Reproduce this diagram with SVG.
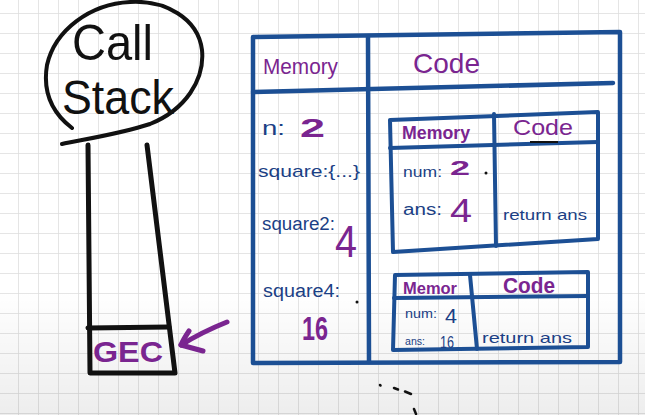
<svg xmlns="http://www.w3.org/2000/svg" width="645" height="415" viewBox="0 0 645 415">
<style>
text{font-family:"Liberation Sans",Arial,sans-serif}
.pu{fill:#7a2590}
.bt{fill:#1b3f85}
.bk{fill:#111}
.bl{fill:none;stroke:#1c4f94;stroke-width:4.5;stroke-linecap:round;stroke-linejoin:round}
.blk{fill:none;stroke:#111;stroke-width:5;stroke-linecap:round;stroke-linejoin:round}
.ar{fill:none;stroke:#7a2590;stroke-width:5;stroke-linecap:round;stroke-linejoin:round}
.b{font-weight:bold}
</style>
<defs>
<pattern id="grid" x="18" y="13" width="20" height="20" patternUnits="userSpaceOnUse">
<path d="M0,0 V20 M0,0 H20" fill="none" stroke="#dddddd" stroke-width="1.5"/>
</pattern>
<linearGradient id="shade" x1="0" y1="0" x2="0" y2="1">
<stop offset="0" stop-color="#000" stop-opacity="0"/>
<stop offset="1" stop-color="#000" stop-opacity="0.07"/>
</linearGradient>
</defs>
<rect width="645" height="415" fill="#ffffff"/>
<rect width="645" height="415" fill="url(#grid)"/>
<rect x="0" y="290" width="645" height="125" fill="url(#shade)"/>

<g id="call-stack-label">
<path class="blk" style="stroke-width:4" d="M62,144 C80,140 120,134 150,124 C185,110 205,80 202,50 C198,18 165,0 130,2 C90,4 55,30 47,65 C42,95 55,115 72,128"/>
<text class="bk" x="72" y="60" font-size="50" textLength="81" lengthAdjust="spacingAndGlyphs">Call</text>
<text class="bk" x="62" y="114" font-size="48" textLength="112" lengthAdjust="spacingAndGlyphs">Stack</text>
</g>

<g id="call-stack">
<path class="blk" d="M88,145 L90,373 L175,373 L147,145"/>
<path class="blk" d="M88,328 L169,327"/>
</g>

<g id="gec">
<text class="pu b" x="93" y="362" font-size="30" textLength="70" lengthAdjust="spacingAndGlyphs">GEC</text>
</g>

<g id="global-execution-context">
<path class="bl" d="M253,37 L620,32 L620,362 L253,363 Z"/>
<path class="bl" d="M253,92 L613,83"/>
<path class="bl" d="M368,37 L369,362"/>
<text class="pu" x="263" y="74" font-size="22" textLength="75" lengthAdjust="spacingAndGlyphs">Memory</text>
<text class="pu" x="413" y="73" font-size="28" textLength="67" lengthAdjust="spacingAndGlyphs">Code</text>
<text class="bt" x="262" y="135" font-size="20" textLength="23" lengthAdjust="spacingAndGlyphs">n:</text>
<text class="pu b" x="300" y="137" font-size="26" textLength="25" lengthAdjust="spacingAndGlyphs">2</text>
<text class="bt" x="258" y="177" font-size="17" textLength="102" lengthAdjust="spacingAndGlyphs">square:{...}</text>
<text class="bt" x="262" y="230" font-size="18" textLength="73" lengthAdjust="spacingAndGlyphs">square2:</text>
<text class="pu" x="335" y="257" font-size="44" textLength="22" lengthAdjust="spacingAndGlyphs">4</text>
<text class="bt" x="263" y="297" font-size="18" textLength="77" lengthAdjust="spacingAndGlyphs">square4:</text>
<circle cx="357" cy="302" r="1.5" fill="#111"/>
<text class="pu b" x="302" y="340" font-size="34" textLength="26" lengthAdjust="spacingAndGlyphs">16</text>
</g>

<g id="square2-context">
<path class="bl" style="stroke-width:4" d="M390,120 L598,112 L598,239 L393,252 Z"/>
<path class="bl" style="stroke-width:4" d="M390,148 L598,142"/>
<path class="bl" style="stroke-width:4" d="M494,114 L496,246"/>
<path d="M530,142 L558,142" stroke="#111" stroke-width="2" fill="none"/>
<text class="pu b" x="402" y="139" font-size="18" textLength="68" lengthAdjust="spacingAndGlyphs">Memory</text>
<text class="pu" x="513" y="135" font-size="22" textLength="60" lengthAdjust="spacingAndGlyphs">Code</text>
<text class="bt" x="403" y="177" font-size="14" textLength="39" lengthAdjust="spacingAndGlyphs">num:</text>
<text class="pu b" x="450" y="175" font-size="20" textLength="20" lengthAdjust="spacingAndGlyphs">2</text>
<circle cx="486" cy="173" r="1.5" fill="#111"/>
<text class="bt" x="403" y="215" font-size="16" textLength="39" lengthAdjust="spacingAndGlyphs">ans:</text>
<text class="pu" x="450" y="222" font-size="34" textLength="22" lengthAdjust="spacingAndGlyphs">4</text>
<text class="bt" x="503" y="220" font-size="15" textLength="84" lengthAdjust="spacingAndGlyphs">return ans</text>
</g>

<g id="square4-context">
<path class="bl" style="stroke-width:4" d="M395,275 L588,272 L588,347 L393,350 Z"/>
<path class="bl" style="stroke-width:4" d="M394,298 L588,296"/>
<path class="bl" style="stroke-width:4" d="M470,275 L477,349"/>
<text class="pu b" x="403" y="294" font-size="16" textLength="54" lengthAdjust="spacingAndGlyphs">Memor</text>
<text class="pu b" x="503" y="293" font-size="22" textLength="52" lengthAdjust="spacingAndGlyphs">Code</text>
<text class="bt" x="405" y="318" font-size="12" textLength="32" lengthAdjust="spacingAndGlyphs">num:</text>
<text class="bt" x="445" y="323" font-size="20" textLength="12" lengthAdjust="spacingAndGlyphs">4</text>
<text class="bt" x="405" y="345" font-size="11" textLength="20" lengthAdjust="spacingAndGlyphs">ans:</text>
<text class="bt" x="440" y="348" font-size="17" textLength="14" lengthAdjust="spacingAndGlyphs">16</text>
<text class="bt" x="482" y="343" font-size="15" textLength="90" lengthAdjust="spacingAndGlyphs">return ans</text>
</g>

<g id="connectors">
<path class="ar" d="M227,322 Q202,332 181,345"/>
<path class="ar" d="M189,331 Q183,340 181,345 L203,351"/>
</g>

<g id="scribbles" stroke="#111" stroke-width="2.5" stroke-linecap="round" fill="none">
<path d="M380,385 L380.5,385.5"/>
<path d="M394,388 L398,389.5"/>
<path d="M405,391.5 L411,394"/>
<path d="M414,409 L416,414"/>
</g>
</svg>
